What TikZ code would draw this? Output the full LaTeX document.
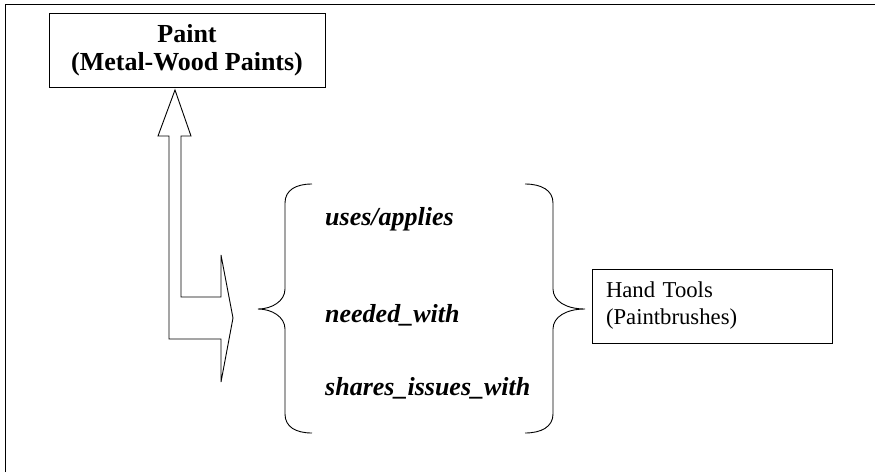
\documentclass[tikz,border=0pt]{standalone}
\usepackage{fontspec}
\setmainfont{Liberation Serif}
\tikzset{
  box/.style={draw, line width=1pt, inner sep=0pt},
  relation/.style={anchor=base west, inner sep=0pt,
    font=\bfseries\itshape\fontsize{26}{30}\selectfont},
  thinline/.style={line width=0.9pt, line join=miter},
}
\begin{document}
\begin{tikzpicture}[x=1pt, y=-1pt]
\useasboundingbox (0,0) rectangle (875,472);

% frame (left and top edges)
\draw[line width=1.3pt] (5.5,472) -- (5.5,4.5) -- (875,4.5);

% source concept
\node[box, minimum width=276pt, minimum height=74pt, align=center,
      font=\bfseries\fontsize{26}{28}\selectfont] (paint) at (187,50)
      {Paint\\(Metal-Wood Paints)};

% bent block arrow: up to the paint box, right to the relation group
\coordinate (upTip) at (175,90);
\coordinate (rightTip) at (233,318);
\draw[thinline, fill=white]
  (upTip) -- (191,136) -- (181,136) -- (181,297) -- (221,297) -- (221,255)
  -- (rightTip) -- (221,382) -- (221,339) -- (169,339) -- (169,136)
  -- (158,136) -- cycle;

% left brace
\draw[thinline] (312,184) .. controls (296,184) and (285,190) .. (285,203)
  -- (285,289) .. controls (285,301) and (272,309) .. (258,309)
  .. controls (272,309) and (285,317) .. (285,329)
  -- (285,414) .. controls (285,427) and (296,433) .. (312,433);

% right brace
\draw[thinline] (525,184) .. controls (541,184) and (553,190) .. (553,203)
  -- (553,289) .. controls (553,301) and (566,309) .. (585,309)
  .. controls (566,309) and (553,317) .. (553,329)
  -- (553,414) .. controls (553,427) and (541,433) .. (525,433);

% relations
\node[relation] (r1) at (325,225) {uses/applies};
\node[relation] (r2) at (325,322) {needed\_with};
\node[relation] (r3) at (325,395) {shares\_issues\_with};

% target concept
\node[box, minimum width=240pt, minimum height=74pt, align=left,
      text width=212pt, inner xsep=14pt,
      font=\fontsize{22.7}{27}\selectfont] (tools) at (712,306)
      {Hand Tools\\(Paintbrushes)};
\end{tikzpicture}
\end{document}
